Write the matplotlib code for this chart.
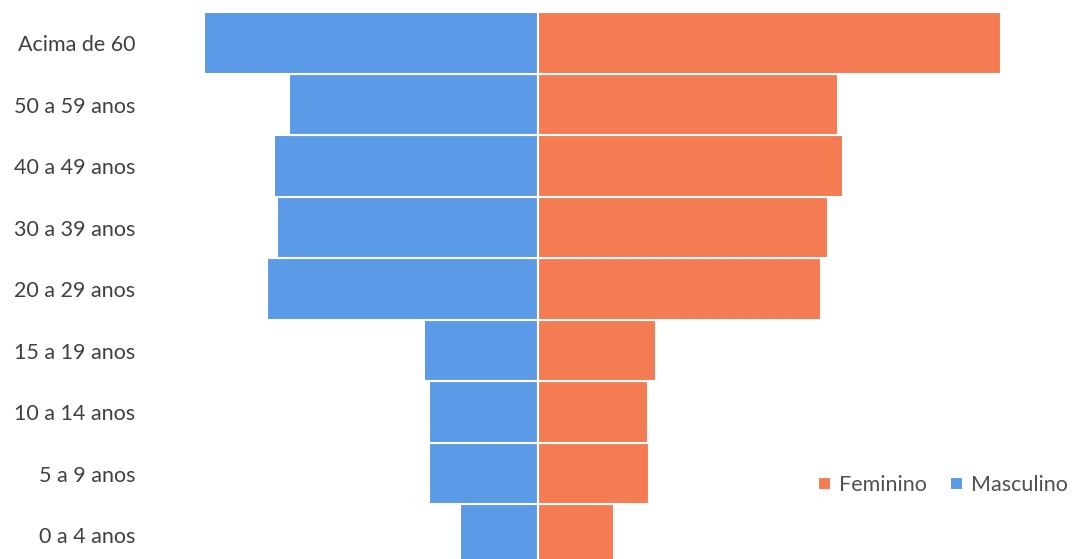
import numpy as np
import matplotlib.pyplot as plt

# faixas etarias, de baixo para cima
faixas = ["0 a 4 anos", "5 a 9 anos", "10 a 14 anos", "15 a 19 anos",
          "20 a 29 anos", "30 a 39 anos", "40 a 49 anos", "50 a 59 anos",
          "Acima de 60"]
masculino = [78, 109, 109, 114, 271, 261, 264, 249, 334]
feminino = [76, 111, 110, 118, 283, 290, 305, 300, 463]

cor_fem = "#F47B52"
cor_masc = "#5A9AE6"

plt.rcParams["font.family"] = ["Lato", "DejaVu Sans"]

fig = plt.figure(figsize=(10.76, 5.59), dpi=100)
ax = fig.add_axes([145 / 1076, 0, 1 - 145 / 1076, 1])

y = np.arange(len(faixas))
ax.barh(y, -np.array(masculino), height=1.0, color=cor_masc,
        edgecolor="white", linewidth=1.5, label="Masculino")
ax.barh(y, feminino, height=1.0, color=cor_fem,
        edgecolor="white", linewidth=1.5, label="Feminino")

ax.set_xlim(-(538 - 145), 1076 - 538)
ax.set_ylim(-0.39, 8.70)

ax.set_yticks(y)
ax.set_yticklabels(faixas, fontsize=15.5, color="#404040")
ax.tick_params(axis="y", length=0, pad=7)
ax.set_xticks([])
for s in ax.spines.values():
    s.set_visible(False)

# legenda: Feminino antes de Masculino
h, l = ax.get_legend_handles_labels()
ax.legend([h[1], h[0]], [l[1], l[0]], ncol=2, frameon=False,
          loc="center right", bbox_to_anchor=(1.0, 1 - 485 / 559),
          fontsize=15.5, labelcolor="#505050", handlelength=0.6,
          handleheight=0.6, handletextpad=0.35, columnspacing=1.1,
          borderaxespad=0.0)

fig.savefig("out.png", dpi=100)
